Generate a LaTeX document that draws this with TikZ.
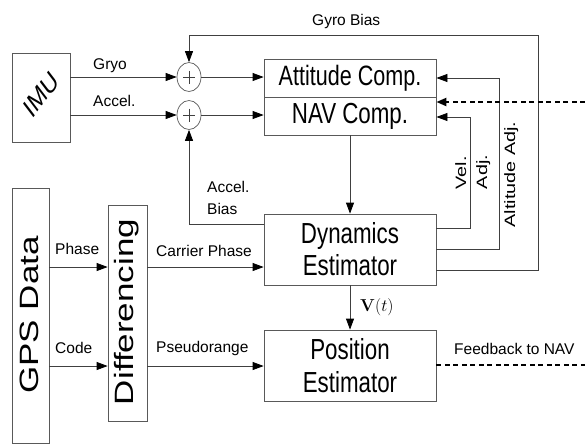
\documentclass[tikz,border=0pt]{standalone}
\usepackage[no-math]{fontspec}
\usepackage{graphicx}
\setmainfont{Liberation Sans}
\newfontfamily\condfont[FakeStretch=0.77]{Liberation Sans}
\newfontfamily\widefont[FakeStretch=1.32]{Liberation Sans}
\usetikzlibrary{arrows.meta,calc,shapes.geometric}
\tikzset{
  ln/.style={draw=black!75, line width=0.8pt},
  arr/.style={ln, -{Triangle[length=11pt,width=8pt,black]}},
  box/.style={draw=black!65, line width=0.8pt, inner sep=0pt, rectangle, align=center},
  sumnode/.style={draw=black!65, line width=0.7pt, ellipse, inner sep=0pt, minimum width=24pt, minimum height=29pt},
  lbl/.style={font=\fontsize{15.5}{18}\selectfont, inner sep=0pt},
  vlbl/.style={font=\widefont\fontsize{15}{18}\selectfont, inner sep=0pt, rotate=90, anchor=base},
  bigv/.style={font=\widefont\fontsize{26.5}{30}\selectfont, inner sep=0pt, rotate=90, anchor=base},
  fbline/.style={draw=black, line width=2.2pt, dash pattern=on 5pt off 3.5pt},
}
\begin{document}
\begin{tikzpicture}[x=1pt,y=-1pt]
\useasboundingbox (0,0) rectangle (585,445);

% IMU
\node[box, minimum width=58pt, minimum height=89pt] (imu) at (41,97.5) {};
\node[inner sep=0pt] (imutext) at (41,94.5) {\scalebox{0.76}[1]{\rotatebox{45}{\fontsize{28}{30}\selectfont IMU}}};

% summing junctions
\node[sumnode] (s1) at (189,77) {};
\node[sumnode] (s2) at (189,115) {};
\draw[ln] (s1.center) +(-6,0) -- +(6,0) +(0,-6.5) -- +(0,6.5);
\draw[ln] (s2.center) +(-6,0) -- +(6,0) +(0,-6.5) -- +(0,6.5);

% computation boxes
\node[box, minimum width=172pt, minimum height=38pt, font=\condfont\fontsize{28}{30}\selectfont] (att) at (350,78) {Attitude Comp.};
\node[box, minimum width=172pt, minimum height=38pt, font=\condfont\fontsize{29}{30}\selectfont] (nav) at (350,116) {NAV Comp.};
\node[box, minimum width=172pt, minimum height=71pt, font=\condfont\fontsize{29}{32}\selectfont] (dyn) at (350,249.5) {Dynamics\\Estimator};
\node[box, minimum width=172pt, minimum height=71pt, font=\condfont\fontsize{29}{33}\selectfont] (pos) at (350,365.5) {Position\\Estimator};

% GPS and differencing
\node[box, minimum width=37pt, minimum height=255pt] (gps) at (30.5,315.5) {};
\node[bigv] (gpstext) at (38,315) {GPS Data};
\node[box, minimum width=39pt, minimum height=216pt] (diff) at (127.5,313) {};
\node[bigv] (difftext) at (133.5,312) {Differencing};

% coordinates for turning points and free ends
\coordinate (gb) at (538,35);
\coordinate (aa) at (499,0);
\coordinate (va) at (470,0);
\coordinate (fbin) at (585,102);
\coordinate (fbout) at (585,365);

% IMU to sums to boxes
\draw[arr] (imu.east |- s1.center) -- (s1.west);
\draw[arr] (imu.east |- s2.center) -- (s2.west);
\draw[arr] (s1.east) -- (att.west |- s1.east);
\draw[arr] (s2.east) -- (nav.west |- s2.east);

% NAV to dynamics, dynamics to position
\draw[arr] (nav.south) -- (dyn.north);
\draw[arr] (dyn.south) -- (pos.north);

% feedback loops
\draw[arr] (dyn.east |- 0,270) -| (gb) -| (s1.north);
\draw[arr] (dyn.east |- 0,249) -| (aa |- att.east) -- (att.east);
\draw[arr] (dyn.east |- 0,228) -| (va |- 0,117) -- (nav.east |- 0,117);
\draw[arr] (dyn.west |- 0,224) -| (s2.south);

% GPS paths
\draw[arr] (gps.east |- 0,267) -- (diff.west |- 0,267);
\draw[arr] (gps.east |- 0,366) -- (diff.west |- 0,366);
\draw[arr] (diff.east |- 0,267) -- (dyn.west |- 0,267);
\draw[arr] (diff.east |- 0,366) -- (pos.west |- 0,366);

% dashed feedback
\draw[fbline, -{Triangle[length=10pt,width=8pt,black]}] (fbin) -- (nav.east |- fbin);
\draw[fbline] (pos.east |- fbout) -- (fbout);

% labels
\node[lbl, anchor=base west] (lgryo) at (93,69) {Gryo};
\node[lbl, anchor=base west] (laccel) at (93,106) {Accel.};
\node[lbl, anchor=base west] (lgb) at (312,25) {Gyro Bias};
\node[lbl, anchor=base west] (lab1) at (207,192) {Accel.};
\node[lbl, anchor=base west] (lab2) at (207,214) {Bias};
\node[lbl, anchor=base west] (lphase) at (55,254) {Phase};
\node[lbl, anchor=base west] (lcode) at (55,353) {Code};
\node[lbl, anchor=base west] (lcp) at (156,256) {Carrier Phase};
\node[lbl, anchor=base west] (lpr) at (156,352) {Pseudorange};
\node[lbl, anchor=base west] (lfb) at (454,354) {Feedback to NAV};
\node[inner sep=0pt, anchor=west, font=\fontsize{17}{20}\selectfont] (lvt) at (360,307) {$\mathbf{V}(t)$};
\node[vlbl] (lvel) at (466,173) {Vel.};
\node[vlbl] (ladj) at (487,172) {Adj.};
\node[vlbl] (lalt) at (515,174.5) {Altitude Adj.};
\end{tikzpicture}
\end{document}
